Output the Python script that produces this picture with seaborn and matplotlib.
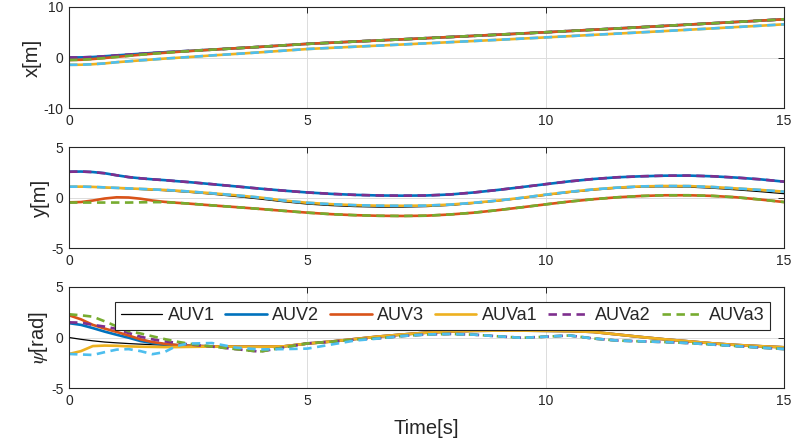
import numpy as np
import pandas as pd
import matplotlib
matplotlib.use("Agg")
import matplotlib.pyplot as plt
import seaborn as sns

# ---------------- data ----------------
t = [0, 0.25, 0.5, 0.75, 1, 1.25, 1.5, 1.75, 2, 2.25, 2.5,
     3, 3.5, 4, 4.5, 5, 5.5, 6, 6.5, 7, 7.5, 8, 8.5, 9, 9.5,
     10, 10.5, 11, 11.5, 12, 12.5, 13, 13.5, 14, 14.5, 15]

labels = ["AUV1", "AUV2", "AUV3", "AUVa1", "AUVa2", "AUVa3"]

# x [m]
x_auv1 = [0, 0.02, 0.1, 0.25, 0.42, 0.58, 0.74, 0.9, 1.04, 1.17, 1.3,
          1.56, 1.83, 2.1, 2.4, 2.7, 2.93, 3.16, 3.38, 3.6, 3.83, 4.06, 4.29, 4.52, 4.76,
          5.0, 5.25, 5.5, 5.75, 6.0, 6.26, 6.52, 6.78, 7.04, 7.3, 7.57]
x_auv2 = [0, 0.02, 0.1, 0.25, 0.42, 0.58, 0.74, 0.9, 1.04, 1.17, 1.3,
          1.56, 1.83, 2.1, 2.4, 2.7, 2.93, 3.16, 3.38, 3.6, 3.83, 4.06, 4.29, 4.52, 4.76,
          5.0, 5.25, 5.5, 5.75, 6.0, 6.26, 6.52, 6.78, 7.04, 7.3, 7.57]
x_auv3 = [-0.5, -0.45, -0.3, -0.1, 0.12, 0.33, 0.55, 0.75, 0.93, 1.1, 1.26,
          1.55, 1.83, 2.1, 2.4, 2.7, 2.93, 3.16, 3.38, 3.6, 3.83, 4.06, 4.29, 4.52, 4.76,
          5.0, 5.25, 5.5, 5.75, 6.0, 6.26, 6.52, 6.78, 7.04, 7.3, 7.57]
x_auva1 = [-1.45, -1.43, -1.33, -1.17, -0.93, -0.75, -0.57, -0.4, -0.22, -0.07, 0.08,
           0.41, 0.71, 1.02, 1.35, 1.68, 1.91, 2.14, 2.36, 2.58, 2.81, 3.04, 3.27, 3.5, 3.74,
           3.98, 4.23, 4.48, 4.73, 4.98, 5.24, 5.5, 5.76, 6.03, 6.29, 6.57]
x_auva2 = x_auv2
x_auva3 = x_auv3
x_ref = x_auva1

# y [m]
y_auv1 = [1.05, 1.06, 1.03, 0.98, 0.92, 0.86, 0.8, 0.74, 0.68, 0.6, 0.52,
          0.33, 0.1, -0.15, -0.42, -0.65, -0.8, -0.9, -0.95, -0.95, -0.9, -0.78, -0.58, -0.35, -0.08,
          0.22, 0.5, 0.74, 0.92, 1.03, 1.06, 1.03, 0.92, 0.76, 0.58, 0.38]
y_auv2 = [2.55, 2.57, 2.52, 2.4, 2.2, 2.02, 1.9, 1.8, 1.72, 1.62, 1.53,
          1.32, 1.1, 0.88, 0.68, 0.5, 0.36, 0.26, 0.2, 0.18, 0.2, 0.3, 0.5, 0.75, 1.03,
          1.32, 1.6, 1.83, 2.0, 2.1, 2.16, 2.17, 2.1, 1.97, 1.8, 1.57]
y_auv3 = [-0.48, -0.45, -0.3, -0.1, 0.02, 0.0, -0.12, -0.3, -0.43, -0.52, -0.6,
          -0.78, -0.95, -1.13, -1.32, -1.5, -1.65, -1.75, -1.81, -1.83, -1.8, -1.68, -1.5, -1.25, -0.97,
          -0.68, -0.4, -0.17, 0.02, 0.15, 0.22, 0.22, 0.16, 0.02, -0.2, -0.45]
y_auva1 = [1.07, 1.08, 1.05, 1.0, 0.95, 0.9, 0.85, 0.8, 0.75, 0.68, 0.6,
           0.42, 0.22, 0.0, -0.3, -0.52, -0.66, -0.76, -0.81, -0.82, -0.8, -0.7, -0.52, -0.3, -0.03,
           0.28, 0.56, 0.8, 0.98, 1.1, 1.14, 1.13, 1.04, 0.9, 0.75, 0.58]
y_auva2 = y_auv2
y_auva3 = [-0.5, -0.5, -0.5, -0.5, -0.5, -0.5, -0.48, -0.46, -0.46, -0.52, -0.6,
           -0.78, -0.95, -1.13, -1.32, -1.5, -1.65, -1.75, -1.81, -1.83, -1.8, -1.68, -1.5, -1.25, -0.97,
           -0.68, -0.4, -0.17, 0.02, 0.15, 0.22, 0.22, 0.16, 0.02, -0.2, -0.45]
y_ref = y_auva1

# psi [rad]
p_auv1 = [0.0, -0.18, -0.33, -0.45, -0.53, -0.6, -0.66, -0.71, -0.76, -0.8, -0.83,
          -0.88, -0.9, -0.91, -0.88, -0.6, -0.4, -0.15, 0.1, 0.3, 0.48, 0.6, 0.66, 0.68, 0.68,
          0.66, 0.63, 0.55, 0.3, 0.05, -0.18, -0.38, -0.58, -0.74, -0.86, -0.97]
p_auv2 = [1.42, 1.25, 0.93, 0.58, 0.27, -0.02, -0.35, -0.55, -0.68, -0.76, -0.81,
          -0.88, -0.9, -0.91, -0.88, -0.6, -0.4, -0.15, 0.1, 0.3, 0.48, 0.6, 0.66, 0.68, 0.68,
          0.66, 0.63, 0.55, 0.3, 0.05, -0.18, -0.38, -0.58, -0.74, -0.86, -0.97]
p_auv3 = [2.2, 1.8, 1.25, 0.88, 0.55, 0.2, -0.18, -0.45, -0.62, -0.73, -0.8,
          -0.88, -0.9, -0.91, -0.88, -0.6, -0.4, -0.15, 0.1, 0.3, 0.48, 0.6, 0.66, 0.68, 0.68,
          0.66, 0.63, 0.55, 0.3, 0.05, -0.18, -0.38, -0.58, -0.74, -0.86, -0.97]
p_auva1 = [-1.63, -1.35, -0.85, -0.8, -0.82, -0.88, -0.91, -0.93, -0.95, -0.95, -0.93,
           -0.9, -0.91, -0.92, -0.88, -0.6, -0.4, -0.15, 0.1, 0.3, 0.48, 0.6, 0.66, 0.68, 0.68,
           0.66, 0.63, 0.55, 0.3, 0.05, -0.18, -0.38, -0.58, -0.74, -0.86, -0.97]
p_auva2 = [1.5, 1.47, 1.25, 1.08, 0.85, 0.45, 0.08, -0.18, -0.38, -0.52, -0.68,
           -0.9, -1.15, -1.4, -1.0, -0.58, -0.42, -0.2, -0.08, 0.15, 0.3, 0.35, 0.28, 0.12, -0.03,
           0.08, 0.2, -0.1, -0.3, -0.38, -0.45, -0.55, -0.7, -0.85, -1.0, -1.14]
p_auva3 = [2.3, 2.2, 2.06, 1.6, 1.1, 0.63, 0.4, 0.12, -0.15, -0.4, -0.6,
           -0.9, -1.15, -1.4, -1.0, -0.58, -0.42, -0.2, -0.08, 0.15, 0.3, 0.35, 0.28, 0.12, -0.03,
           0.08, 0.2, -0.1, -0.3, -0.38, -0.45, -0.55, -0.7, -0.85, -1.0, -1.14]
p_ref = [-1.63, -1.68, -1.73, -1.45, -1.2, -1.15, -1.35, -1.65, -1.45, -0.85, -0.6,
         -0.55, -1.0, -1.18, -1.15, -1.1, -0.7, -0.3, -0.1, 0.15, 0.3, 0.35, 0.28, 0.12, -0.03,
         0.08, 0.2, -0.1, -0.3, -0.38, -0.45, -0.55, -0.7, -0.85, -1.0, -1.14]

# ---------------- style ----------------
colors = ["#000000", "#0072BD", "#D95319", "#EDB120", "#7E2F8E", "#77AC30", "#4DBEEE"]
styles = ["-", "-", "-", "-", "--", "--", "--"]
widths = [0.9, 1.9, 1.9, 1.9, 1.9, 1.9, 1.9]

sns.set_theme(style="whitegrid")
plt.rcParams["font.family"] = ["Liberation Sans", "DejaVu Sans"]
plt.rcParams["mathtext.fontset"] = "stix"
plt.rcParams["axes.unicode_minus"] = False
plt.rcParams["lines.dashed_pattern"] = [3.2, 2.1]
plt.rcParams["axes.edgecolor"] = "#262626"
plt.rcParams["axes.linewidth"] = 0.8

fig = plt.figure(figsize=(7.94, 4.47), dpi=100)
L, W, H = 69 / 794, 715 / 794, 101 / 447
ax1 = fig.add_axes([L, 1 - 108 / 447, W, H])
ax2 = fig.add_axes([L, 1 - 248 / 447, W, H])
ax3 = fig.add_axes([L, 1 - 388 / 447, W, H])

panels = [
    (ax1, [x_auv1, x_auv2, x_auv3, x_auva1, x_auva2, x_auva3, x_ref], "x[m]", (-10, 10), [-10, 0, 10]),
    (ax2, [y_auv1, y_auv2, y_auv3, y_auva1, y_auva2, y_auva3, y_ref], "y[m]", (-5, 5), [-5, 0, 5]),
    (ax3, [p_auv1, p_auv2, p_auv3, p_auva1, p_auva2, p_auva3, p_ref], r"$\psi$[rad]", (-5, 5), [-5, 0, 5]),
]

for ax, series, ylab, ylim, yticks in panels:
    for i, vals in enumerate(series):
        sns.lineplot(x=t, y=vals, ax=ax, color=colors[i], linestyle=styles[i],
                     linewidth=widths[i], legend=False)
    ax.set_xlim(0, 15)
    ax.set_ylim(*ylim)
    ax.set_xticks([0, 5, 10, 15])
    ax.set_yticks(yticks)
    ax.set_ylabel(ylab, fontsize=14.5, color="#262626", labelpad=1)
    ax.grid(True, color="#dcdcdc", linewidth=0.7)
    ax.set_axisbelow(True)
    ax.tick_params(direction="in", top=True, right=True, length=4.5, width=0.7,
                   colors="#262626", labelsize=10, pad=4)
    for s in ax.spines.values():
        s.set_visible(True)
        s.set_color("#262626")
        s.set_linewidth(0.8)

ax3.set_xlabel("Time[s]", fontsize=14.5, color="#262626", labelpad=8)

handles = ax3.get_lines()[:6]
leg = ax3.legend(handles, labels, ncol=6, loc="upper right", bbox_to_anchor=(0.98, 0.851),
                 borderaxespad=0, fontsize=13, frameon=True, fancybox=False,
                 edgecolor="#262626", framealpha=1, handlelength=2.3, handletextpad=0.3,
                 columnspacing=0.6, borderpad=0.3)
leg.get_frame().set_linewidth(0.8)

fig.savefig("out.png", dpi=100)
